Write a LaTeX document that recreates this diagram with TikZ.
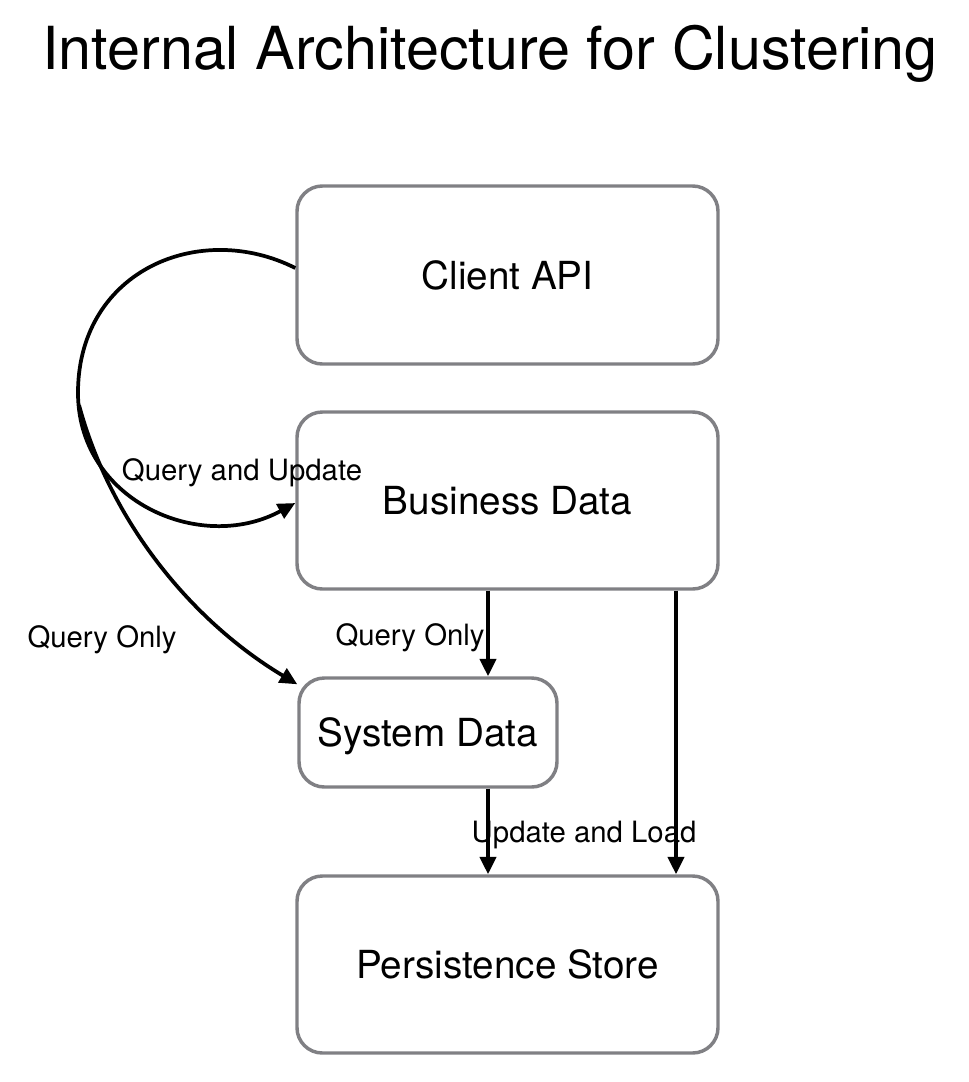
\documentclass[tikz,border=0pt]{standalone}
\usepackage{fontspec}
\setmainfont{TeX Gyre Heros}
\usetikzlibrary{arrows.meta}
\definecolor{boxgray}{RGB}{128,128,132}

\begin{document}
\begin{tikzpicture}[x=0.75pt,y=-0.75pt,
        box/.style={draw=boxgray, line width=2.6pt, rounded corners=19pt, text depth=0pt, font=\fontsize{29}{34}\selectfont},
        lbl/.style={anchor=base, font=\fontsize{22}{26}\selectfont},
        arr/.style={line width=2.8pt, -{Triangle[length=13pt,width=12pt]}}]
        \useasboundingbox (0,0) rectangle (968,1082);

        \node[anchor=base, font=\fontsize{44.5}{52}\selectfont] (title) at (490,69) {Internal Architecture for Clustering};

        \node[box, minimum width=315.75pt, minimum height=133.5pt] (api) at (507.5,275) {Client API};
        \node[box, minimum width=315.75pt, minimum height=132.75pt] (biz) at (507.5,500.5) {Business Data};
        \node[box, minimum width=193.5pt, minimum height=81.75pt] (sys) at (428,732.5) {System Data};
        \node[box, minimum width=315.75pt, minimum height=132.75pt] (store) at (507.5,964.5) {Persistence Store};
        \coordinate (fork) at (79,405);

        \path[draw,arr] ([yshift=5.25pt]api.west) .. controls (200,220) and (80,270) .. (78,390)
            .. controls (76,500) and (200,555) .. ([yshift=-1.9pt]biz.west);
        \path[draw,arr] (fork) .. controls (110,520) and (190,620) .. ([yshift=-6pt]sys.north west);
        \path[draw,arr] ([xshift=-14.625pt]biz.south) -- ([xshift=-14.625pt]biz.south |- sys.north);
        \path[draw,arr] ([xshift=126.375pt]biz.south) -- ([xshift=126.375pt]biz.south |- store.north);
        \path[draw,arr] ([xshift=45pt]sys.south) -- ([xshift=45pt]sys.south |- store.north);

        \node[lbl] (qu) at (242,480) {Query and Update};
        \node[lbl] (qo1) at (102,647) {Query Only};
        \node[lbl] (qo2) at (410,645) {Query Only};
        \node[lbl] (ul) at (584,842) {Update and Load};
    \end{tikzpicture}
\end{document}
